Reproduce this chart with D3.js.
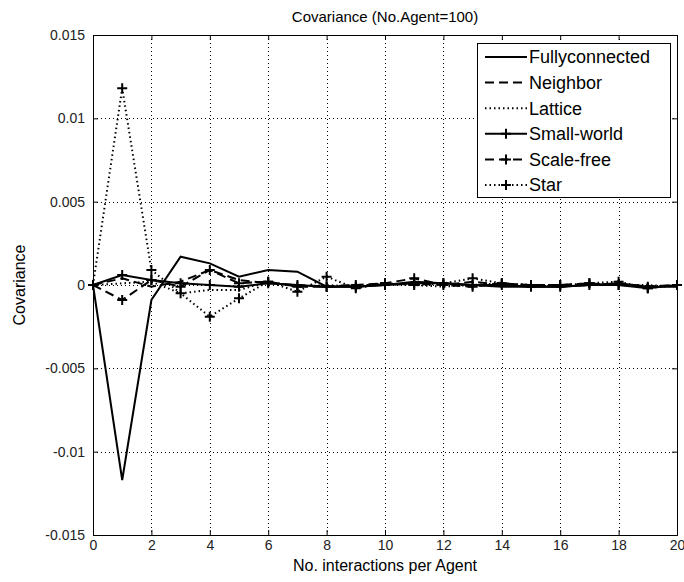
<!DOCTYPE html>
<html>
<head>
<meta charset="utf-8">
<script src="https://cdn.jsdelivr.net/npm/d3@7"></script>
<style>
  body { margin: 0; background: #fff; }
  svg { font-family: "Liberation Sans", Arial, sans-serif; }
</style>
</head>
<body>
<div id="chart"></div>
<script>
// Covariance per number of interactions, one array per network type
const steps = d3.range(0, 21);
const fullyconnected = [0, -0.0117, -0.0009, 0.0017, 0.0013, 0.0005, 0.0009, 0.0008, -0.0001, -0.0001, 0.0000, 0.0002, 0.0001, 0.0000, -0.0001, -0.0001, -0.0001, 0.0000, 0.0001, -0.0001, -0.0001];
const neighbor = [0, 0.0004, -0.0001, 0.0002, 0.0009, 0.0003, 0.0001, 0.0000, -0.0001, 0.0000, 0.0000, 0.0001, 0.0000, 0.0002, 0.0000, -0.0001, 0.0000, 0.0000, 0.0001, -0.0001, 0.0000];
const lattice = [0, 0.0001, 0.0002, -0.0005, -0.0003, -0.0003, 0.0002, -0.0001, 0.0000, -0.0001, 0.0001, 0.0000, -0.0001, 0.0000, 0.0001, 0.0000, -0.0001, 0.0000, 0.0000, 0.0000, -0.0001];
const smallWorld = [0, 0.0006, 0.0003, 0.0001, 0.0000, -0.0001, 0.0001, 0.0000, -0.0001, -0.0001, 0.0000, 0.0001, 0.0001, 0.0000, 0.0000, -0.0001, -0.0001, 0.0000, 0.0000, -0.0002, 0.0000];
const scaleFree = [0, -0.0009, 0.0003, -0.0001, 0.0009, 0.0001, 0.0002, -0.0001, -0.0001, 0.0000, 0.0001, 0.0004, 0.0000, -0.0001, 0.0001, 0.0000, 0.0000, 0.0001, 0.0000, -0.0001, 0.0000];
const star = [0, 0.0118, 0.0009, -0.0005, -0.0019, -0.0008, 0.0002, -0.0004, 0.0005, -0.0002, 0.0001, 0.0000, 0.0001, 0.0004, 0.0001, 0.0000, 0.0000, 0.0001, 0.0002, -0.0002, 0.0000];

const seriesNames = ['Fullyconnected', 'Neighbor', 'Lattice', 'Small-world', 'Scale-free', 'Star'];
const seriesValues = [fullyconnected, neighbor, lattice, smallWorld, scaleFree, star];
const xTicks = [0, 2, 4, 6, 8, 10, 12, 14, 16, 18, 20];
const yTicks = [-0.015, -0.01, -0.005, 0, 0.005, 0.01, 0.015];
const yTickLabels = ['-0.015', '-0.01', '-0.005', '0', '0.005', '0.01', '0.015'];

// line style per series: dash pattern + marker
const styles = [
    { dash: null, marker: false },
    { dash: '9,5', marker: false },
    { dash: '1.5,3', marker: false },
    { dash: null, marker: true },
    { dash: '9,5', marker: true },
    { dash: '1.5,3', marker: true }
];

const width = 684, height = 582;
const margin = { left: 93, right: 7, top: 35, bottom: 47 };
const pw = width - margin.left - margin.right;
const ph = height - margin.top - margin.bottom;

const svg = d3.select('#chart').append('svg')
    .attr('width', width)
    .attr('height', height);

const x = d3.scaleLinear().domain([0, 20]).range([margin.left, margin.left + pw]);
const y = d3.scaleLinear().domain([-0.015, 0.015]).range([margin.top + ph, margin.top]);

// grid
const grid = svg.append('g').attr('stroke', '#000').attr('stroke-width', 1)
    .attr('stroke-dasharray', '1,3').attr('shape-rendering', 'crispEdges');
xTicks.slice(1, -1).forEach(t => {
    grid.append('line').attr('x1', Math.round(x(t)) + 0.5).attr('x2', Math.round(x(t)) + 0.5)
        .attr('y1', margin.top).attr('y2', margin.top + ph);
});
yTicks.slice(1, -1).forEach(t => {
    grid.append('line').attr('y1', Math.round(y(t)) + 0.5).attr('y2', Math.round(y(t)) + 0.5)
        .attr('x1', margin.left).attr('x2', margin.left + pw);
});

// axes (inward ticks on all four sides)
const tickLen = 5;
const axisFont = 14;
svg.append('g').attr('transform', `translate(0,${margin.top + ph})`)
    .call(d3.axisBottom(x).tickValues(xTicks).tickSize(-tickLen).tickPadding(5))
    .call(g => g.selectAll('text').attr('font-size', axisFont).attr('font-family', null).attr('fill', '#222'));
svg.append('g').attr('transform', `translate(0,${margin.top})`)
    .call(d3.axisTop(x).tickValues(xTicks).tickSize(-tickLen).tickFormat(''));
svg.append('g').attr('transform', `translate(${margin.left},0)`)
    .call(d3.axisLeft(y).tickValues(yTicks).tickSize(-tickLen).tickPadding(8)
        .tickFormat((d, i) => yTickLabels[i]))
    .call(g => g.selectAll('text').attr('font-size', axisFont).attr('font-family', null).attr('fill', '#222'));
svg.append('g').attr('transform', `translate(${margin.left + pw},0)`)
    .call(d3.axisRight(y).tickValues(yTicks).tickSize(-tickLen).tickFormat(''));
svg.selectAll('.domain').attr('stroke', '#000');
svg.selectAll('.tick line').attr('stroke', '#000');

// series
const line = d3.line().x((d, i) => x(steps[i])).y(d => y(d));
const plot = svg.append('g');
seriesValues.forEach((vals, k) => {
    const st = styles[k];
    plot.append('path')
        .datum(vals)
        .attr('d', line)
        .attr('fill', 'none')
        .attr('stroke', '#000')
        .attr('stroke-width', 2)
        .attr('stroke-dasharray', st.dash);
    if (st.marker) {
        plot.selectAll(null).data(vals).enter().append('path')
            .attr('d', (d, i) => `M${x(steps[i]) - 5},${y(d)}h10M${x(steps[i])},${y(d) - 5}v10`)
            .attr('stroke', '#000')
            .attr('stroke-width', 2);
    }
});

// title and axis labels
svg.append('text').attr('x', margin.left + pw / 2).attr('y', 22)
    .attr('text-anchor', 'middle').attr('font-size', 15).text('Covariance (No.Agent=100)');
svg.append('text').attr('x', margin.left + pw / 2).attr('y', 571)
    .attr('text-anchor', 'middle').attr('font-size', 16).text('No. interactions per Agent');
svg.append('text').attr('transform', `translate(25,${y(0)}) rotate(-90)`)
    .attr('text-anchor', 'middle').attr('font-size', 16).text('Covariance');

// legend
const lg = svg.append('g').attr('transform', 'translate(477,43)');
lg.append('rect').attr('width', 193).attr('height', 154)
    .attr('fill', '#fff').attr('stroke', '#000').attr('stroke-width', 1)
    .attr('shape-rendering', 'crispEdges');
seriesNames.forEach((name, k) => {
    const st = styles[k];
    const cy = 14 + k * 25.6;
    lg.append('line').attr('x1', 8).attr('x2', 50).attr('y1', cy).attr('y2', cy)
        .attr('stroke', '#000').attr('stroke-width', 2).attr('stroke-dasharray', st.dash);
    if (st.marker) {
        lg.append('path').attr('d', `M24,${cy}h10M29,${cy - 5}v10`)
            .attr('stroke', '#000').attr('stroke-width', 2);
    }
    lg.append('text').attr('x', 52).attr('y', cy).attr('dy', '0.36em')
        .attr('font-size', 18).text(name);
});
</script>
</body>
</html>
